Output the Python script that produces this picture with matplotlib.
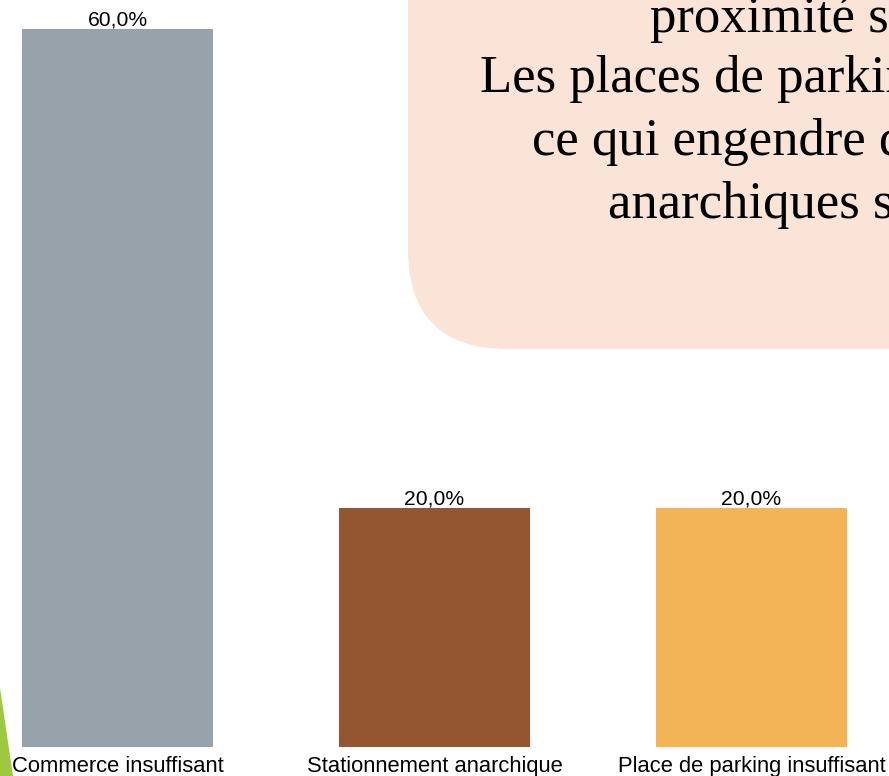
import matplotlib
matplotlib.use('Agg')
import matplotlib.pyplot as plt
from matplotlib.patches import FancyBboxPatch, Polygon

# données du graphique
categories = ['Commerce insuffisant', 'Stationnement anarchique', 'Place de parking insuffisant']
valeurs = [60.0, 20.0, 20.0]
couleurs = ['#98A2AB', '#935631', '#F2B457']

# texte de l'encadré (coupé par le bord de la diapo, comme l'original)
lignes_encadre = ['proximité sont rares.',
                  'Les places de parking sont insuffisantes,',
                  'ce qui engendre des stationnements',
                  'anarchiques sur la chaussée.']

plt.rcParams['font.family'] = ['Liberation Sans', 'DejaVu Sans']

fig = plt.figure(figsize=(8.89, 7.76), dpi=100)
fig.patch.set_facecolor('white')
ax = fig.add_axes([0, 0, 1, 1])
ax.set_axis_off()

px = fig.dpi_scale_trans  # coordonnées en pouces

# triangle vert en bas à gauche
ax.add_patch(Polygon([(0, 0), (0.13, 0), (0, 0.88)], closed=True,
                     facecolor='#9DC83F', edgecolor='none', transform=px, zorder=0))

# encadré arrondi
ax.add_patch(FancyBboxPatch((4.08, 4.27), 6.0, 5.0,
                            boxstyle='round,pad=0,rounding_size=1.0',
                            facecolor='#FAE3D7', edgecolor='none', transform=px, zorder=0))

debuts_x = [6.50, 4.80, 5.32, 6.08]
bases_y = [7.76 - 0.32, 7.76 - 0.92, 7.76 - 1.55, 7.76 - 2.18]
for txt, x0, y0 in zip(lignes_encadre, debuts_x, bases_y):
    fig.text(x0, y0, txt, transform=px, ha='left', va='baseline',
             fontsize=38, family=['Liberation Serif', 'DejaVu Serif'], color='black')

# barres
x = range(len(categories))
ax.bar(x, valeurs, width=0.603, color=couleurs, zorder=2)
ax.set_xlim(-0.3707, 2.4338)
ax.set_ylim(-2.42, 62.4)

for i, v in enumerate(valeurs):
    ax.annotate(f'{v:.1f}%'.replace('.', ','), (i, v), xytext=(0, 2.2),
                textcoords='offset points', ha='center', va='baseline', fontsize=15.2)
    ax.text(i, -2.09, categories[i], ha='center', va='baseline', fontsize=15.8)

plt.savefig('out.png', dpi=100, facecolor='white')
plt.close(fig)
